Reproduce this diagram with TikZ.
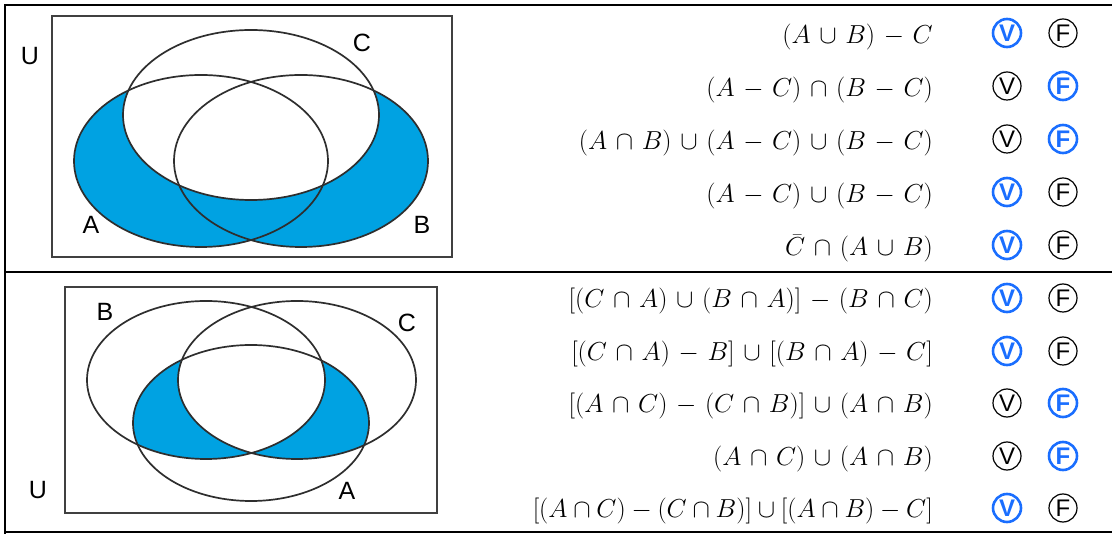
\documentclass[tikz,border=0pt]{standalone}
\usepackage{fix-cm}
\usepackage{fontspec}
\setsansfont{Liberation Sans}
\definecolor{relleno}{HTML}{00A2E2}
\definecolor{marca}{HTML}{1A6EFF}
\definecolor{trazo}{HTML}{2E2E2E}
\newcommand\espaciado{\medmuskip=6mu\relax}
\newcommand\espaciadocorto{\medmuskip=4mu\relax}
\begin{document}
\begin{tikzpicture}[x=1pt, y=-1pt,
    every node/.style={inner sep=0pt},
    letra/.style={font=\sffamily\fontsize{25}{25}\selectfont},
    expr/.style={anchor=base east, font=\fontsize{26}{30}\selectfont\espaciado},
    opc/.style={circle, draw, line width=1.2pt, minimum size=28pt,
        font=\sffamily\fontsize{24}{24}\selectfont},
    opcsi/.style={opc, draw=marca, text=marca, line width=2.6pt,
        font=\sffamily\bfseries\fontsize{24}{24}\selectfont},
    conj/.style={draw=trazo, line width=1.7pt},
    marco/.style={draw=black!75, line width=2.4pt}]
    \useasboundingbox (0,0) rectangle (1112,534);

    % Lineas de la tabla.
    \draw[line width=2pt] (1112,5) -- (5,5) -- (5,534);
    \draw[line width=2pt] (5,272) -- (1112,272);
    \draw[line width=2pt] (5,532.5) -- (1112,532.5);

    % Primer diagrama: region (A u B) - C sombreada.
    \fill[relleno] (201,161) ellipse [x radius=127pt, y radius=86pt];
    \fill[relleno] (301,161) ellipse [x radius=127pt, y radius=86pt];
    \fill[white] (251,115) ellipse [x radius=128pt, y radius=85pt];
    \draw[conj] (201,161) ellipse [x radius=127pt, y radius=86pt];
    \draw[conj] (301,161) ellipse [x radius=127pt, y radius=86pt];
    \draw[conj] (251,115) ellipse [x radius=128pt, y radius=85pt];
    \draw[marco] (52,16) rectangle (452,257);
    \node[letra] (u1) at (30,56) {U};
    \node[letra] (a1) at (91,225) {A};
    \node[letra] (b1) at (422,225) {B};
    \node[letra] (c1) at (362,43) {C};

    % Segundo diagrama: A interseca solo a uno de B y C.
    \begin{scope}
        \clip (251,423) ellipse [x radius=118pt, y radius=78pt];
        \fill[relleno, even odd rule]
            (206,380) ellipse [x radius=119pt, y radius=79pt]
            (297,380) ellipse [x radius=119pt, y radius=79pt];
    \end{scope}
    \draw[conj] (206,380) ellipse [x radius=119pt, y radius=79pt];
    \draw[conj] (297,380) ellipse [x radius=119pt, y radius=79pt];
    \draw[conj] (251,423) ellipse [x radius=118pt, y radius=78pt];
    \draw[marco] (65,287) rectangle (437,513);
    \node[letra] (u2) at (38,490) {U};
    \node[letra] (b2) at (105,312) {B};
    \node[letra] (c2) at (407,323) {C};
    \node[letra] (a2) at (347,491) {A};

    % Expresiones del primer diagrama.
    \node[expr] (e1) at (933,44) {$(A\cup B)-C$};
    \node[expr] (e2) at (933,97) {$(A-C)\cap(B-C)$};
    \node[expr] (e3) at (933,150) {$(A\cap B)\cup(A-C)\cup(B-C)$};
    \node[expr] (e4) at (933,203) {$(A-C)\cup(B-C)$};
    \node[expr] (e5) at (933,256) {$\bar{C}\cap(A\cup B)$};

    % Expresiones del segundo diagrama.
    \node[expr] (e6) at (933,308) {$[(C\cap A)\cup(B\cap A)]-(B\cap C)$};
    \node[expr] (e7) at (933,361) {$[(C\cap A)-B]\cup[(B\cap A)-C]$};
    \node[expr] (e8) at (933,413) {$[(A\cap C)-(C\cap B)]\cup(A\cap B)$};
    \node[expr] (e9) at (933,466) {$(A\cap C)\cup(A\cap B)$};
    \node[expr, font=\fontsize{26}{30}\selectfont\espaciadocorto] (e10) at (933,518)
        {$[(A\cap C)-(C\cap B)]\cup[(A\cap B)-C]$};

    % Respuestas marcadas (V o F).
    \node[opcsi] (v1) at (1007,33) {V};  \node[opc] (f1) at (1063,33) {F};
    \node[opc] (v2) at (1007,86) {V};    \node[opcsi] (f2) at (1063,86) {F};
    \node[opc] (v3) at (1007,139) {V};   \node[opcsi] (f3) at (1063,139) {F};
    \node[opcsi] (v4) at (1007,192) {V}; \node[opc] (f4) at (1063,192) {F};
    \node[opcsi] (v5) at (1007,245) {V}; \node[opc] (f5) at (1063,245) {F};
    \node[opcsi] (v6) at (1007,298) {V}; \node[opc] (f6) at (1063,298) {F};
    \node[opcsi] (v7) at (1007,351) {V}; \node[opc] (f7) at (1063,351) {F};
    \node[opc] (v8) at (1007,403) {V};   \node[opcsi] (f8) at (1063,403) {F};
    \node[opc] (v9) at (1007,456) {V};   \node[opcsi] (f9) at (1063,456) {F};
    \node[opcsi] (v10) at (1007,508) {V}; \node[opc] (f10) at (1063,508) {F};
\end{tikzpicture}
\end{document}
